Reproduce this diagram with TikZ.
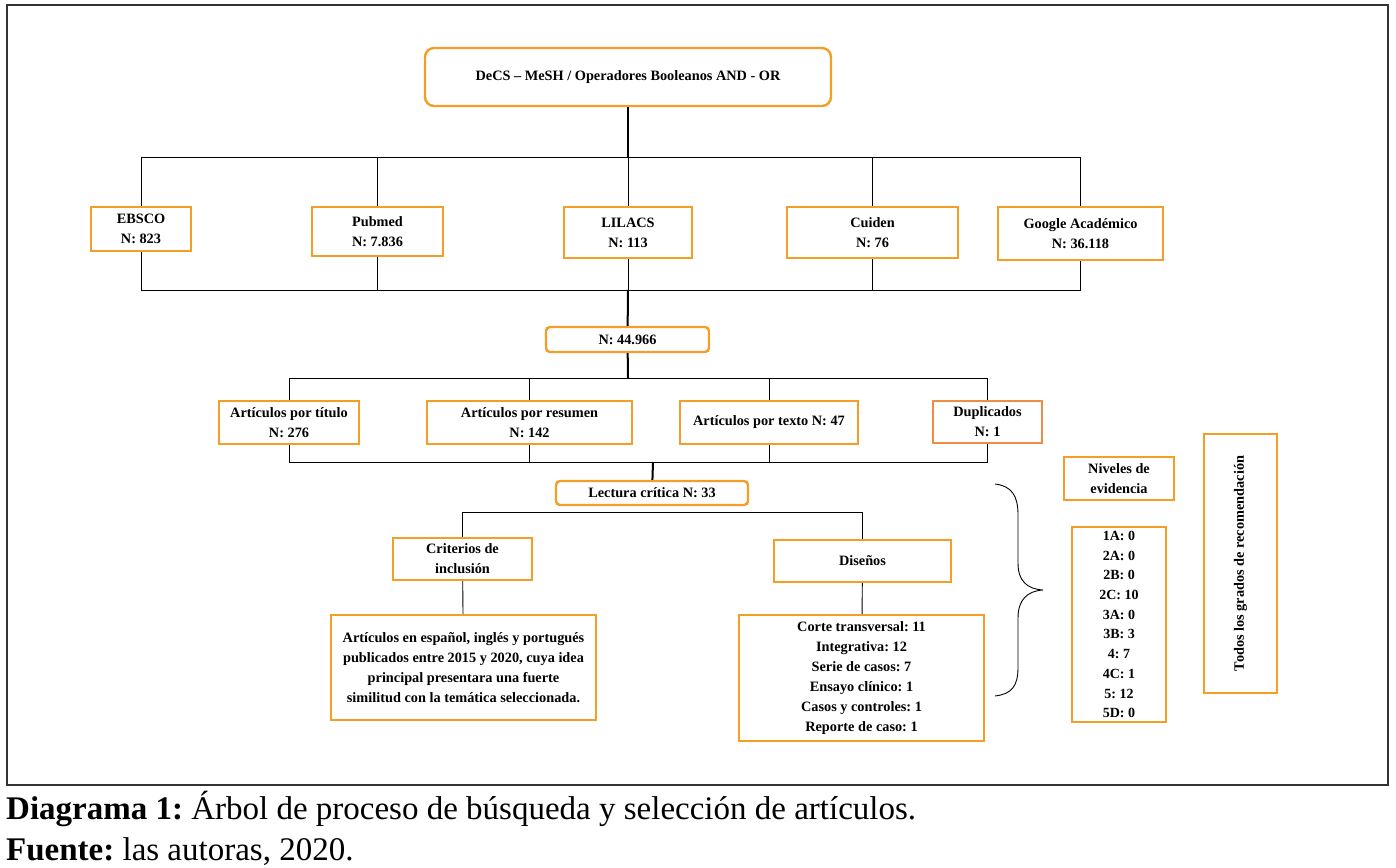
\documentclass[tikz,border=0pt]{standalone}
\usepackage{fontspec}
\setmainfont{Liberation Serif}
\definecolor{boxorange}{RGB}{245,158,39}
\definecolor{duporange}{RGB}{238,140,72}
\definecolor{framegray}{RGB}{50,50,50}
\frenchspacing

\begin{document}
\begin{tikzpicture}[x=1pt, y=-1pt, every node/.style={font=\bfseries\fontsize{14.3}{20}\selectfont, align=center, inner sep=0pt}, box/.style={draw=boxorange, line width=2.4pt}, bus/.style={line width=0.9pt}, trunk/.style={line width=2pt}]
	\useasboundingbox (0,0) rectangle (1396,867);
	\draw[framegray, line width=1.5pt] (7,5) rectangle (1388,785);
	\node[box, rounded corners=9pt, minimum width=406pt, minimum height=58pt] (decs) at (628,77) {DeCS – MeSH / Operadores Booleanos AND - OR};
	\node[box, minimum width=100pt, minimum height=44pt] (ebsco) at (141,229) {EBSCO\\N: 823};
	\node[box, minimum width=131pt, minimum height=49pt] (pubmed) at (377.5,231.5) {Pubmed\\N: 7.836};
	\node[box, minimum width=128pt, minimum height=51pt] (lilacs) at (628,232.5) {LILACS\\N: 113};
	\node[box, minimum width=171pt, minimum height=51pt] (cuiden) at (872.5,232.5) {Cuiden\\N: 76};
	\node[box, minimum width=165pt, minimum height=53pt] (google) at (1080.5,233.5) {Google Académico\\N: 36.118};
	\node[box, rounded corners=4pt, minimum width=163pt, minimum height=25pt] (total) at (627.5,339.5) {N: 44.966};
	\node[box, minimum width=140pt, minimum height=43pt] (titulo) at (289,422.5) {Artículos por título\\N: 276};
	\node[box, minimum width=205pt, minimum height=43pt] (resumen) at (529.5,422.5) {Artículos por resumen\\N: 142};
	\node[box, minimum width=178pt, minimum height=43pt] (texto) at (769,422.5) {Artículos por texto N: 47};
	\node[draw=duporange, line width=1.3pt, minimum width=109pt, minimum height=42pt] (duplic) at (987.5,422) {Duplicados\\N: 1};
	\node[box, rounded corners=4pt, minimum width=192pt, minimum height=24pt] (lectura) at (652,493) {Lectura crítica N: 33};
	\node[box, minimum width=139pt, minimum height=42pt] (criterios) at (462.5,559) {Criterios de\\inclusión};
	\node[box, minimum width=265pt, minimum height=105pt] (critxt) at (463.5,667.5) {Artículos en español, inglés y portugués\\publicados entre 2015 y 2020, cuya idea\\principal presentara una fuerte\\similitud con la temática seleccionada.};
	\node[box, minimum width=177pt, minimum height=42pt] (disenos) at (862.5,561) {Diseños};
	\node[box, minimum width=245pt, minimum height=126pt] (distxt) at (861.5,678) {Corte transversal: 11\\Integrativa: 12\\Serie de casos: 7\\Ensayo clínico: 1\\Casos y controles: 1\\Reporte de caso: 1};
	\node[box, minimum width=110pt, minimum height=43pt] (niveles) at (1119,478.5) {Niveles de\\evidencia};
	\node[box, font=\bfseries\fontsize{14}{19.7}\selectfont, minimum width=94pt, minimum height=195pt] (levels) at (1119,624.5) {1A: 0\\2A: 0\\2B: 0\\2C: 10\\3A: 0\\3B: 3\\4: 7\\4C: 1\\5: 12\\5D: 0};
	\node[box, rotate=90, minimum width=259pt, minimum height=73pt] (grados) at (1240.5,563.5) {Todos los grados de recomendación};
	\coordinate (topbus) at (628,157);
	\coordinate (srcbus) at (628,290);
	\coordinate (filtbus) at (628,378);
	\coordinate (selbus) at (653,462);
	\coordinate (lecbus) at (652,512);
	\draw[trunk] (decs) -- (topbus);
	\draw[bus] (ebsco.north |- topbus) -- (google.north |- topbus);
	\draw[bus] (ebsco.south |- srcbus) -- (google.south |- srcbus);
	\foreach \n in {ebsco,pubmed,lilacs,cuiden,google}
		\draw[bus] (\n.north) -- (\n.north |- topbus) (\n.south) -- (\n.south |- srcbus);
	\draw[trunk] (srcbus) -- (total);
	\draw[trunk] (total) -- (filtbus);
	\draw[bus] (titulo.north |- filtbus) -- (duplic.north |- filtbus);
	\draw[bus] (titulo.south |- selbus) -- (duplic.south |- selbus);
	\foreach \n in {titulo,resumen,texto,duplic}
		\draw[bus] (\n.north) -- (\n.north |- filtbus) (\n.south) -- (\n.south |- selbus);
	\draw[trunk] (selbus) -- (lectura);
	\draw[bus] (criterios.north |- lecbus) -- (disenos.north |- lecbus);
	\draw[bus] (criterios.north) -- (criterios.north |- lecbus) (disenos.north) -- (disenos.north |- lecbus);
	\draw[bus] (criterios) -- (critxt);
	\draw[bus] (disenos) -- (distxt);
	\draw[bus] (995,484) .. controls (1012,486) and (1018,496) .. (1018,515) -- (1018,563) .. controls (1018,581) and (1027,589) .. (1043,590) .. controls (1027,591) and (1018,600) .. (1018,618) -- (1018,667) .. controls (1018,686) and (1012,694) .. (995,696);
	\node[font=\fontsize{33}{40}\selectfont, anchor=base west] (caption) at (6,819) {\textbf{Diagrama 1:} Árbol de proceso de búsqueda y selección de artículos.};
	\node[font=\fontsize{33}{40}\selectfont, anchor=base west] (source) at (6,860) {\textbf{Fuente:} las autoras, 2020.};
\end{tikzpicture}
\end{document}
